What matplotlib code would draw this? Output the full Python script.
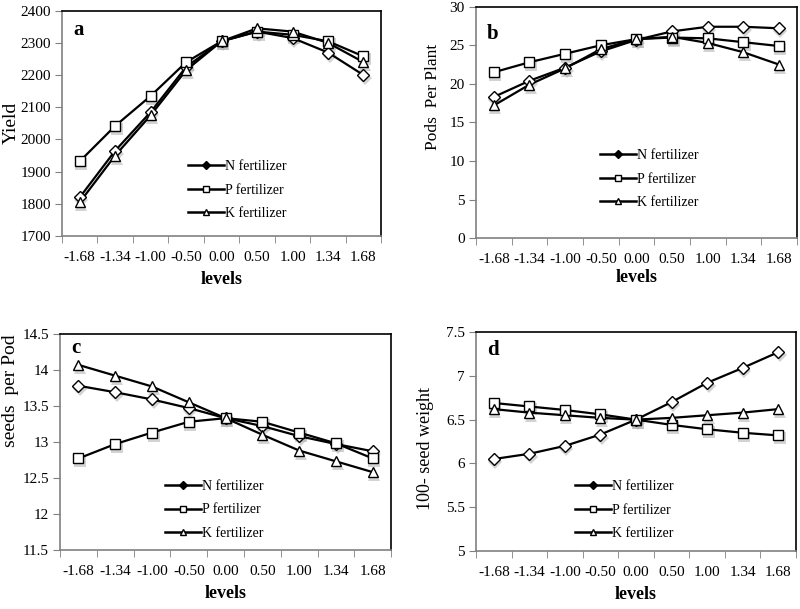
import matplotlib
matplotlib.use("Agg")
import matplotlib.pyplot as plt
import matplotlib.transforms as mtrans
import numpy as np

plt.rcParams['font.family'] = ['Liberation Serif', 'DejaVu Serif']

levels = ["-1.68", "-1.34", "-1.00", "-0.50", "0.00", "0.50", "1.00", "1.34", "1.68"]
series_names = ["N fertilizer", "P fertilizer", "K fertilizer"]

yield_N = [1820, 1965, 2085, 2225, 2305, 2335, 2315, 2270, 2200]
yield_P = [1932, 2042, 2135, 2240, 2305, 2335, 2325, 2305, 2258]
yield_K = [1805, 1950, 2075, 2215, 2305, 2345, 2335, 2300, 2240]

pods_N = [18.3, 20.4, 22.1, 24.2, 25.7, 26.8, 27.4, 27.4, 27.2]
pods_P = [21.5, 22.8, 23.9, 25.0, 25.8, 26.0, 25.9, 25.4, 24.9]
pods_K = [17.2, 19.9, 22.0, 24.5, 25.8, 26.1, 25.3, 24.1, 22.5]

seeds_N = [13.78, 13.69, 13.59, 13.47, 13.33, 13.22, 13.08, 12.97, 12.87]
seeds_P = [12.77, 12.97, 13.13, 13.28, 13.33, 13.28, 13.13, 12.98, 12.77]
seeds_K = [14.07, 13.92, 13.77, 13.55, 13.33, 13.10, 12.88, 12.73, 12.58]

weight_N = [6.05, 6.11, 6.20, 6.33, 6.50, 6.70, 6.92, 7.09, 7.27]
weight_P = [6.69, 6.65, 6.61, 6.56, 6.50, 6.44, 6.39, 6.35, 6.32]
weight_K = [6.62, 6.58, 6.55, 6.52, 6.50, 6.52, 6.55, 6.58, 6.62]

panels = [
    dict(letter="a", lpos=0.915, ylabel="Yield", ylsize=14, ylxy=(-0.16, 0.5),
         data=(yield_N, yield_P, yield_K),
         ylim=(1700, 2400), yticks=np.arange(1700, 2401, 100), yfmt="{:.0f}",
         rect=[0.0775, 0.6125, 0.399, 0.370], leg=(0.395, 0.204), xlpad=5),
    dict(letter="b", lpos=0.88, ylabel="Pods  Per Plant", ylsize=12.5, ylxy=(-0.134, 0.61),
         data=(pods_N, pods_P, pods_K),
         ylim=(0, 30), yticks=np.arange(0, 31, 5), yfmt="{:.0f}",
         rect=[0.595, 0.609, 0.401, 0.380], leg=(0.386, 0.255), xlpad=2),
    dict(letter="c", lpos=0.935, ylabel="seeds  per Pod", ylsize=14, ylxy=(-0.148, 0.736),
         data=(seeds_N, seeds_P, seeds_K),
         ylim=(11.5, 14.5), yticks=np.arange(11.5, 14.51, 0.5), yfmt="{:g}",
         rect=[0.075, 0.097, 0.414, 0.3547], leg=(0.317, 0.185), xlpad=5),
    dict(letter="d", lpos=0.918, ylabel="100- seed weight", ylsize=13, ylxy=(-0.159, 0.47),
         data=(weight_N, weight_P, weight_K),
         ylim=(5, 7.5), yticks=np.arange(5, 7.51, 0.5), yfmt="{:g}",
         rect=[0.595, 0.0952, 0.40, 0.3596], leg=(0.309, 0.187), xlpad=5),
]

markers = ["D", "s", "^"]
msizes = [6.0, 7.5, 7.5]

fig = plt.figure(figsize=(8.0, 6.09), dpi=100)
x = np.arange(len(levels))

for p in panels:
    ax = fig.add_axes(p["rect"])
    shadow = mtrans.offset_copy(ax.transData, fig=fig, x=1.5, y=-3.0, units="dots")
    handles = []
    for vals, m, ms, name in zip(p["data"], markers, msizes, series_names):
        ax.plot(x, vals, linestyle="none", marker=m, markersize=ms + 1,
                color="#b0b0b0", alpha=0.55, markeredgewidth=0, transform=shadow, zorder=2)
        ax.plot(x, vals, color="black", linewidth=1.6, zorder=3)
        ax.plot(x, vals, linestyle="none", marker=m, markersize=ms,
                markerfacecolor="white", markeredgecolor="black", markeredgewidth=1.0, zorder=4)
        h, = ax.plot([], [], color="black", linewidth=1.8, marker=m, markersize=4.5,
                     markerfacecolor="white" if m != "D" else "black",
                     markeredgecolor="black", markeredgewidth=1.0, label=name)
        handles.append(h)
    ax.set_xlim(-0.5, len(levels) - 0.5)
    ax.set_ylim(*p["ylim"])
    ax.set_xticks(x)
    ax.set_xticklabels(levels, fontsize=11)
    ax.set_xticks(np.arange(-0.5, len(levels), 1.0), minor=True)
    ax.tick_params(axis="x", which="major", length=0, pad=11)
    ax.tick_params(axis="x", which="minor", length=5, color="#808080", direction="out")
    ax.set_yticks(p["yticks"])
    ax.set_yticklabels([p["yfmt"].format(v) for v in p["yticks"]], fontsize=11)
    ax.tick_params(axis="y", length=5, color="#808080", direction="out", pad=3)
    for s in ["top", "right"]:
        ax.spines[s].set_color("black")
        ax.spines[s].set_linewidth(1.2)
    for s in ["left", "bottom"]:
        ax.spines[s].set_color("#808080")
        ax.spines[s].set_linewidth(1.2)
    ax.set_xlabel("levels", fontsize=13, fontweight="bold", labelpad=p["xlpad"])
    ax.set_ylabel(p["ylabel"], fontsize=p["ylsize"], va="center")
    ax.yaxis.set_label_coords(*p["ylxy"])
    ax.text(0.035, p["lpos"], p["letter"], transform=ax.transAxes, fontsize=15,
            fontweight="bold", va="center", ha="left")
    ax.legend(handles=handles, loc="center left", bbox_to_anchor=p["leg"], frameon=False,
              fontsize=10, handlelength=2.6, handletextpad=0.05, labelspacing=0.75,
              borderaxespad=0, borderpad=0)

fig.savefig("out.png", dpi=100)
